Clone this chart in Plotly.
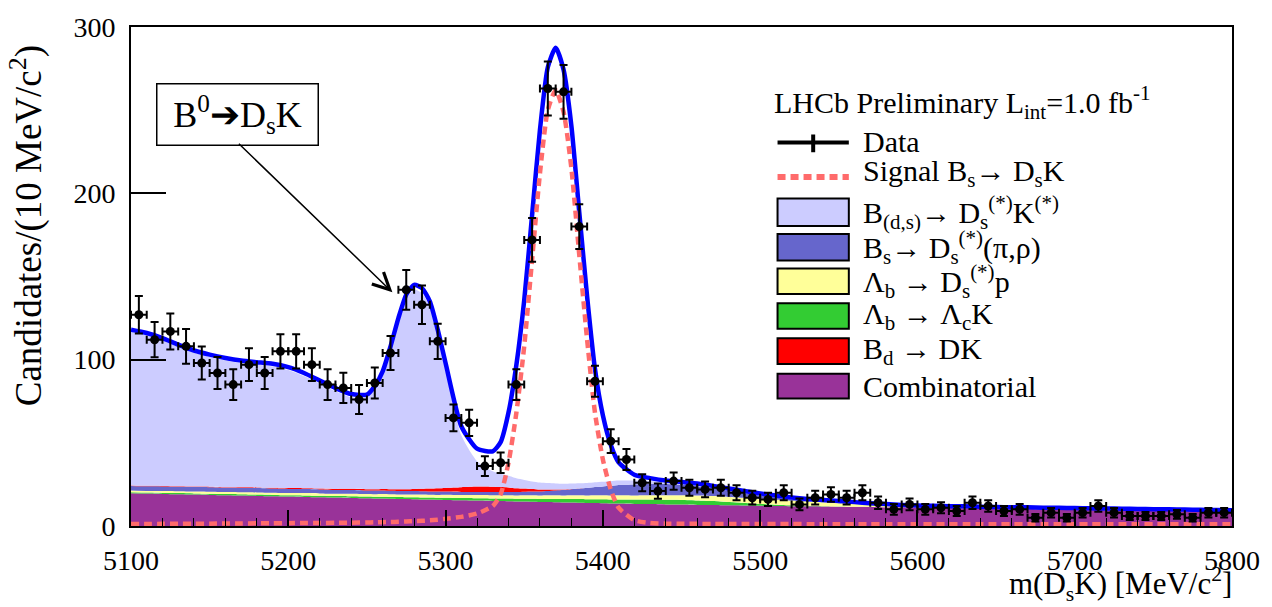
import numpy as np
import plotly.graph_objects as go

# ---------------- data ----------------
bin_centers = [5105 + 10 * i for i in range(70)]
counts = [127, 112, 117, 108, 98, 92, 85, 97, 92, 105,
          105, 97, 85, 83, 76, 86, 104, 142, 133, 111,
          65, 62, 36, 38, 85, 172, 263, 261, 180, 87,
          51, 40, 26, 21, 27, 23, 22, 23, 20, 17,
          16, 20, 13, 17, 19, 17, 20, 14, 10, 13,
          10, 11, 9, 14, 12, 9, 10, 5, 8, 5,
          8, 12, 8, 6, 6, 6, 7, 5, 8, 8]

fit_mass = [5100, 5110, 5120, 5130, 5140, 5150, 5160, 5170, 5180, 5190, 5200, 5210, 5220, 5230, 5240, 5250,
            5255, 5260, 5265, 5270, 5275, 5280, 5285, 5290, 5295, 5300,
            5310, 5320, 5330,
            5335, 5340, 5345, 5350, 5355, 5360, 5365, 5370, 5375, 5380, 5385, 5390, 5395, 5400, 5405, 5410,
            5420, 5430, 5440, 5450, 5460, 5470, 5480, 5490, 5500, 5510, 5520, 5530, 5540, 5550, 5560, 5570,
            5580, 5590, 5600,
            5610, 5620, 5630, 5640, 5650, 5660, 5670, 5680, 5690, 5700, 5710, 5720, 5730, 5740, 5750, 5760,
            5770, 5780, 5790, 5800]

combinatorial = [19.7, 19.5, 19.3, 19.1, 18.9, 18.7, 18.5, 18.3, 18.1, 17.9, 17.7, 17.5, 17.3, 17.1, 16.9, 16.7,
                 16.6, 16.5, 16.4, 16.3, 16.2, 16.1, 16.0, 15.9, 15.8, 15.7,
                 15.5, 15.3, 15.1,
                 15.0, 14.9, 14.8, 14.7, 14.6, 14.5, 14.4, 14.3, 14.2, 14.1, 14.0, 13.9, 13.8, 13.7, 13.6, 13.5,
                 13.3, 13.2, 13.0, 12.9, 12.7, 12.6, 12.4, 12.3, 12.1, 12.0, 11.9, 11.8, 11.7, 11.6, 11.5, 11.4,
                 11.3, 11.2, 11.1,
                 11.0, 10.8, 10.7, 10.6, 10.4, 10.3, 10.2, 10.0, 9.9, 9.8, 9.6, 9.5, 9.4, 9.2, 9.1, 9.0,
                 8.9, 8.7, 8.6, 8.5]

lb_lck = [0.6, 0.6, 0.6, 0.7, 0.7, 0.7, 0.7, 0.8, 0.8, 0.8, 0.8, 0.9, 0.9, 0.9, 1.0, 1.0,
          1.0, 1.1, 1.1, 1.1, 1.1, 1.2, 1.2, 1.2, 1.2, 1.3,
          1.3, 1.4, 1.5,
          1.5, 1.6, 1.6, 1.7, 1.8, 1.8, 1.9, 2.0, 2.0, 2.1, 2.2, 2.2, 2.3, 2.4, 2.4, 2.5,
          2.6, 2.7, 2.8, 2.8, 2.7, 2.4, 2.0, 1.6, 1.2, 0.8, 0.5, 0.3, 0.15, 0.05, 0, 0,
          0, 0, 0,
          0, 0, 0, 0, 0, 0, 0, 0, 0, 0, 0, 0, 0, 0, 0, 0,
          0, 0, 0, 0]

lb_dsp = [1.0, 1.0, 1.1, 1.1, 1.1, 1.2, 1.2, 1.2, 1.3, 1.3, 1.3, 1.4, 1.4, 1.4, 1.5, 1.5,
          1.5, 1.6, 1.6, 1.6, 1.6, 1.7, 1.7, 1.7, 1.7, 1.8,
          1.8, 1.9, 1.9,
          2.0, 2.0, 2.0, 2.1, 2.1, 2.1, 2.2, 2.2, 2.2, 2.3, 2.3, 2.3, 2.4, 2.4, 2.4, 2.5,
          2.5, 2.6, 2.7, 2.8, 2.9, 3.0, 3.1, 3.1, 3.1, 3.0, 2.8, 2.6, 2.4, 2.1, 1.7, 1.2,
          0.8, 0.4, 0.15,
          0.05, 0, 0, 0, 0, 0, 0, 0, 0, 0, 0, 0, 0, 0, 0, 0,
          0, 0, 0, 0]

bs_dspi = [2.8, 2.8, 2.8, 2.7, 2.7, 2.7, 2.6, 2.6, 2.6, 2.5, 2.5, 2.4, 2.4, 2.3, 2.3, 2.2,
           2.2, 2.2, 2.1, 2.1, 2.1, 2.0, 2.0, 2.0, 2.0, 1.9,
           1.9, 1.9, 1.9,
           1.9, 2.0, 2.0, 2.1, 2.2, 2.4, 2.6, 2.9, 3.2, 3.6, 4.0, 4.4, 4.9, 5.3, 5.8, 6.2,
           6.6, 6.9, 6.8, 6.3, 5.6, 4.7, 3.7, 2.8, 2.0, 1.3, 0.8, 0.5, 0.3, 0.15, 0.05, 0,
           0, 0, 0,
           0, 0, 0, 0, 0, 0, 0, 0, 0, 0, 0, 0, 0, 0, 0, 0,
           0, 0, 0, 0]

bd_dk = [0.3, 0.3, 0.3, 0.3, 0.3, 0.35, 0.35, 0.4, 0.4, 0.45, 0.5, 0.5, 0.55, 0.6, 0.65, 0.7,
         0.78, 0.85, 0.92, 1.0, 1.15, 1.3, 1.5, 1.7, 1.95, 2.2,
         2.8, 3.2, 3.2,
         3.0, 2.7, 2.3, 1.9, 1.5, 1.1, 0.8, 0.55, 0.35, 0.2, 0.1, 0.05, 0, 0, 0, 0,
         0, 0, 0, 0, 0, 0, 0, 0, 0, 0, 0, 0, 0, 0, 0, 0,
         0, 0, 0,
         0, 0, 0, 0, 0, 0, 0, 0, 0, 0, 0, 0, 0, 0, 0, 0,
         0, 0, 0, 0]

bds_dsk = [92.4, 90.6, 87.6, 83.8, 80.4, 78.0, 76.2, 74.7, 73.7, 73.0, 71.0, 67.5, 63.1, 58.7, 55.0, 54.8,
           59.8, 68.4, 83.4, 100.4, 114.2, 119.8, 117.5, 109.1, 91.6, 70.8,
           31.2, 15.3, 9.3,
           8.0, 7.0, 6.0, 5.2, 4.6, 4.2, 3.9, 3.6, 3.4, 3.2, 3.1, 3.0, 2.9, 2.8, 2.7, 2.6,
           2.3, 1.6, 0.6, 0.4, 0.3, 0.2, 0.1, 0.05, 0, 0, 0, 0, 0, 0, 0, 0,
           0, 0, 0,
           0, 0, 0, 0, 0, 0, 0, 0, 0, 0, 0, 0, 0, 0, 0, 0,
           0, 0, 0, 0]

signal = [1.2, 1.2, 1.3, 1.3, 1.4, 1.4, 1.5, 1.5, 1.6, 1.6, 1.7, 1.8, 1.8, 1.9, 2.0, 2.1,
          2.2, 2.3, 2.4, 2.5, 2.7, 2.9, 3.1, 3.4, 3.8, 4.3,
          5.5, 7.5, 12,
          19, 38, 68, 108, 160, 212, 250, 262, 249, 215, 163, 112, 68, 40, 22, 11,
          3.5, 1.8, 1.4, 1.3, 1.3, 1.2, 1.2, 1.2, 1.2, 1.2, 1.2, 1.1, 1.1, 1.1, 1.1, 1.1,
          1.1, 1.1, 1.1,
          1.1, 1.1, 1.1, 1.0, 1.0, 1.0, 1.0, 1.0, 1.0, 1.0, 1.0, 1.0, 1.0, 1.0, 1.0, 1.0,
          1.0, 1.0, 1.0, 1.0]

x_ticks = [5100, 5200, 5300, 5400, 5500, 5600, 5700, 5800]
y_ticks = [0, 100, 200, 300]

# ---------------- styles ----------------
SERIF = "Liberation Serif"
C_COMB, C_LBLCK, C_LBDSP = "#993399", "#33cc33", "#ffff99"
C_BSDSPI, C_BDDK, C_BDSDSK = "#6666cc", "#ff0000", "#ccccff"
C_TOTAL, C_SIG = "#0000ff", "#ff6b6b"

layers = [(combinatorial, C_COMB), (lb_lck, C_LBLCK), (lb_dsp, C_LBDSP),
          (bs_dspi, C_BSDSPI), (bd_dk, C_BDDK), (bds_dsk, C_BDSDSK)]

fig = go.Figure()
running = np.zeros(len(fit_mass))
for i, (vals, col) in enumerate(layers):
    running = running + np.asarray(vals, dtype=float)
    fig.add_trace(go.Scatter(
        x=fit_mass, y=running.copy(), mode="lines",
        line=dict(width=0, shape="spline", smoothing=0.6),
        fill="tozeroy" if i == 0 else "tonexty", fillcolor=col,
        hoverinfo="skip", showlegend=False))

total = running + np.asarray(signal, dtype=float)
fig.add_trace(go.Scatter(x=fit_mass, y=total, mode="lines",
                         line=dict(color=C_TOTAL, width=4.5, shape="spline", smoothing=0.6),
                         hoverinfo="skip", showlegend=False))
fig.add_trace(go.Scatter(x=fit_mass, y=signal, mode="lines",
                         line=dict(color=C_SIG, width=4.5, dash="8px,5px", shape="spline", smoothing=0.6),
                         hoverinfo="skip", showlegend=False))
fig.add_trace(go.Scatter(
    x=bin_centers, y=counts, mode="markers",
    marker=dict(color="black", size=9),
    error_y=dict(type="sqrt", color="black", thickness=2, width=4),
    error_x=dict(type="constant", value=5, color="black", thickness=2, width=4),
    showlegend=False))

# ---------------- layout ----------------
L, R, T, B = 131, 29, 20, 81
W, H = 1272, 607
PW, PH = W - L - R, H - T - B


def px(x):
    return (x - L) / PW


def py(y):
    return (H - B - y) / PH


TICKFONT = dict(family=SERIF, size=28, color="black")
fig.update_layout(
    width=W, height=H, margin=dict(l=L, r=R, t=T, b=B),
    paper_bgcolor="white", plot_bgcolor="white", showlegend=False,
    font=dict(family=SERIF, color="black", size=28),
)
fig.update_xaxes(range=[5100, 5800], tickvals=x_ticks, ticks="inside", ticklen=16, tickwidth=1.5,
                 tickcolor="black",
                 minor=dict(tick0=5100, dtick=20, ticks="inside", ticklen=8, tickwidth=1.2, tickcolor="black"),
                 showline=True, linecolor="black", linewidth=2, mirror=True,
                 showgrid=False, zeroline=False,
                 tickfont=TICKFONT, ticklabelstandoff=8)
fig.update_yaxes(range=[0, 300], tickvals=y_ticks, ticks="inside", ticklen=35, tickwidth=1.5,
                 tickcolor="black",
                 showline=True, linecolor="black", linewidth=2, mirror=True,
                 showgrid=False, zeroline=False,
                 tickfont=TICKFONT, ticklabelstandoff=8)

ann = []
shp = []
# axis titles
ann.append(dict(xref="paper", yref="paper", x=px(26), y=py(222), text="Candidates/(10 MeV/c<sup>2</sup>)",
                textangle=-90, showarrow=False, font=dict(family=SERIF, size=37, color="black"),
                xanchor="center", yanchor="middle"))
ann.append(dict(xref="paper", yref="paper", x=px(1245), y=py(585), text="m(D<sub>s</sub>K) [MeV/c<sup>2</sup>]",
                showarrow=False, font=dict(family=SERIF, size=31, color="black"),
                xanchor="right", yanchor="middle"))

# boxed label with arrow
ann.append(dict(xref="paper", yref="paper", x=px(239), y=py(108.5),
                text="B<sup>0</sup>➔D<sub>s</sub>K", showarrow=False,
                font=dict(family=SERIF, size=36, color="black"),
                bordercolor="black", borderwidth=1.5, borderpad=2, bgcolor="white",
                width=156, height=56, xanchor="center", yanchor="middle"))
ann.append(dict(xref="paper", yref="paper", x=px(395), y=py(289), text="",
                showarrow=True, axref="pixel", ayref="pixel", ax=-155, ay=-150,
                arrowhead=5, arrowsize=2.2, arrowwidth=1.5, arrowcolor="black"))

# legend
LEG_FS = 30
ann.append(dict(xref="paper", yref="paper", x=px(778), y=py(97),
                text="LHCb Preliminary L<sub>int</sub>=1.0 fb<sup>-1</sup>", showarrow=False,
                font=dict(family=SERIF, size=LEG_FS, color="black"), xanchor="left", yanchor="middle"))
# data entry
shp.append(dict(type="line", xref="paper", yref="paper", x0=px(784), x1=px(856), y0=py(137), y1=py(137),
                line=dict(color="black", width=4)))
shp.append(dict(type="line", xref="paper", yref="paper", x0=px(820), x1=px(820), y0=py(129), y1=py(147),
                line=dict(color="black", width=4)))
ann.append(dict(xref="paper", yref="paper", x=px(868), y=py(136), text="Data", showarrow=False,
                font=dict(family=SERIF, size=LEG_FS, color="black"), xanchor="left", yanchor="middle"))
# signal entry
shp.append(dict(type="line", xref="paper", yref="paper", x0=px(784), x1=px(856), y0=py(172), y1=py(172),
                line=dict(color=C_SIG, width=6, dash="8px,5px")))
ann.append(dict(xref="paper", yref="paper", x=px(868), y=py(168),
                text="Signal B<sub>s</sub>→ D<sub>s</sub>K", showarrow=False,
                font=dict(family=SERIF, size=LEG_FS, color="black"), xanchor="left", yanchor="middle"))

legend_boxes = [
    (194, 221.7, C_BDSDSK, "B<sub>(d,s)</sub>→ D<sub>s</sub><sup>(*)</sup>K<sup>(*)</sup>"),
    (230, 256.7, C_BSDSPI, "B<sub>s</sub>→ D<sub>s</sub><sup>(*)</sup>(π,ρ)"),
    (265, 290.7, C_LBDSP, "Λ<sub>b</sub> → D<sub>s</sub><sup>(*)</sup>p"),
    (300, 326, C_LBLCK, "Λ<sub>b</sub> → Λ<sub>c</sub>K"),
    (335.7, 361.7, C_BDDK, "B<sub>d</sub> → DK"),
    (371.7, 396.7, C_COMB, "Combinatorial"),
]
for (y0, y1, col, label) in legend_boxes:
    shp.append(dict(type="rect", xref="paper", yref="paper", x0=px(784), x1=px(856),
                    y0=py(y1), y1=py(y0), fillcolor=col, line=dict(color="black", width=2)))
    ann.append(dict(xref="paper", yref="paper", x=px(868), y=py((y0 + y1) / 2), text=label, showarrow=False,
                    font=dict(family=SERIF, size=LEG_FS, color="black"), xanchor="left", yanchor="middle"))

fig.update_layout(annotations=ann, shapes=shp)
fig.write_html("out.html")
